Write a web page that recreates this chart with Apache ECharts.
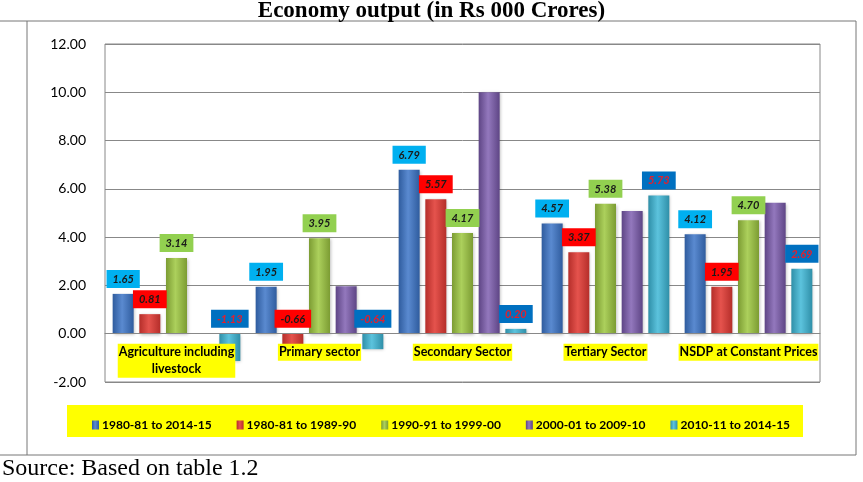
<!DOCTYPE html>
<html>
<head>
<meta charset="utf-8">
<script src="https://cdn.jsdelivr.net/npm/echarts@6/dist/echarts.min.js"></script>
<style>
  html, body { margin: 0; padding: 0; background: #fff; }
  #chart { width: 863px; height: 482px; }
</style>
</head>
<body>
<div id="chart"></div>
<script>
// categories and series values
const categories = ['Agriculture including\nlivestock', 'Primary sector', 'Secondary Sector', 'Tertiary Sector', 'NSDP at Constant Prices']
const seriesNames = ['1980-81 to 2014-15', '1980-81 to 1989-90', '1990-91 to 1999-00', '2000-01 to 2009-10', '2010-11 to 2014-15']
const s1980to2015 = [1.65, 1.95, 6.79, 4.57, 4.12]
const s1980to1990 = [0.81, -0.66, 5.57, 3.37, 1.95]
const s1990to2000 = [3.14, 3.95, 4.17, 5.38, 4.70]
const s2000to2010 = [null, 1.97, 10.00, 5.08, 5.42]
const s2010to2015 = [-1.13, -0.64, 0.20, 5.73, 2.69]
const yTicks = { min: -2, max: 12, interval: 2 }

const myChart = echarts.init(document.getElementById('chart'))

//柱子的立体渐变
function barColor(dark, light) {
    return new echarts.graphic.LinearGradient(0, 0, 1, 0, [
        { offset: 0, color: dark },
        { offset: 0.45, color: light },
        { offset: 1, color: dark }
    ])
}

//数值标签，带背景色
function label(bg, color) {
    return {
        show: true,
        position: 'top',
        distance: 6,
        formatter: p => p.value.toFixed(2),
        backgroundColor: bg,
        color: color,
        padding: [4, 6, 3, 6],
        fontFamily: 'Lato',
        fontStyle: 'italic',
        fontWeight: 'bold',
        fontSize: 11
    }
}

const colors = [
    ['#2f5c9e', '#5a8ad0'],
    ['#b52e2a', '#e5534d'],
    ['#7c9c33', '#acd05c'],
    ['#5e4585', '#9378bd'],
    ['#2f8fa8', '#5cc3dd']
]
const labels = [
    label('#00b0f0', '#1a1a1a'),
    label('#ff0000', '#1a1a1a'),
    label('#92d050', '#1a1a1a'),
    { show: false },
    label('#0070c0', '#e0202e')
]
const dataSets = [s1980to2015, s1980to1990, s1990to2000, s2000to2010, s2010to2015]

const series = dataSets.map((d, i) => ({
    name: seriesNames[i],
    type: 'bar',
    data: d,
    barWidth: 21,
    barGap: '27%',
    itemStyle: {
        color: barColor(colors[i][0], colors[i][1]),
        shadowColor: 'rgba(0,0,0,0.25)',
        shadowBlur: 3,
        shadowOffsetX: 1,
        shadowOffsetY: 1
    },
    label: labels[i]
}))

//网格上下边界，用于把类目轴移到0刻度处
const gridTop = 44
const gridBottom = 100
const plotHeight = 482 - gridTop - gridBottom
const zeroOffset = -plotHeight * (0 - yTicks.min) / (yTicks.max - yTicks.min)

const option = {
    animation: false,
    title: {
        text: 'Economy output (in Rs 000 Crores)',
        left: 'center',
        top: 0,
        padding: [0, 0, 0, 0],
        textStyle: {
            fontFamily: 'Liberation Serif',
            fontWeight: 'bold',
            fontSize: 23,
            color: '#000'
        }
    },
    graphic: [
        { type: 'line', shape: { x1: 0, y1: 21, x2: 856, y2: 21 }, style: { stroke: '#777', lineWidth: 1 } },
        { type: 'line', shape: { x1: 0, y1: 455, x2: 856, y2: 455 }, style: { stroke: '#777', lineWidth: 1 } },
        { type: 'line', shape: { x1: 27, y1: 21, x2: 27, y2: 455 }, style: { stroke: '#777', lineWidth: 1 } },
        { type: 'line', shape: { x1: 856, y1: 21, x2: 856, y2: 455 }, style: { stroke: '#777', lineWidth: 1 } },
        { type: 'rect', shape: { x: 67, y: 405, width: 736, height: 32 }, style: { fill: '#ffff00' }, z: -1 },
        {
            type: 'text', left: 2, top: 457,
            style: { text: 'Source: Based on table 1.2', font: '24px "Liberation Serif"', fill: '#000' }
        }
    ],
    legend: {
        data: seriesNames,
        left: 87,
        top: 414,
        itemGap: 25,
        itemWidth: 7,
        itemHeight: 9,
        icon: 'rect',
        textStyle: {
            fontFamily: 'Lato',
            fontWeight: 'bold',
            fontSize: 12,
            color: '#000',
            padding: [0, 0, 0, -2]
        }
    },
    grid: {
        left: 105,
        right: 43,
        top: gridTop,
        bottom: gridBottom,
        show: true,
        borderColor: '#888',
        borderWidth: 1
    },
    xAxis: {
        type: 'category',
        data: categories,
        z: 10,
        offset: zeroOffset,
        axisLine: { show: true, onZero: false, lineStyle: { color: '#888' } },
        axisTick: { show: false },
        axisLabel: {
            interval: 0,
            margin: 10,
            fontFamily: 'Lato',
            fontWeight: 'bold',
            fontSize: 12.5,
            lineHeight: 17,
            color: '#000',
            backgroundColor: '#ffff00',
            padding: [0, 1]
        }
    },
    yAxis: {
        type: 'value',
        min: yTicks.min,
        max: yTicks.max,
        interval: yTicks.interval,
        axisLine: { show: false },
        axisTick: { show: false },
        splitLine: { lineStyle: { color: '#888', width: 1 } },
        axisLabel: {
            margin: 19,
            fontFamily: 'Lato',
            fontSize: 14,
            color: '#000',
            formatter: v => v.toFixed(2)
        }
    },
    series: series
}

myChart.setOption(option, true)
</script>
</body>
</html>
